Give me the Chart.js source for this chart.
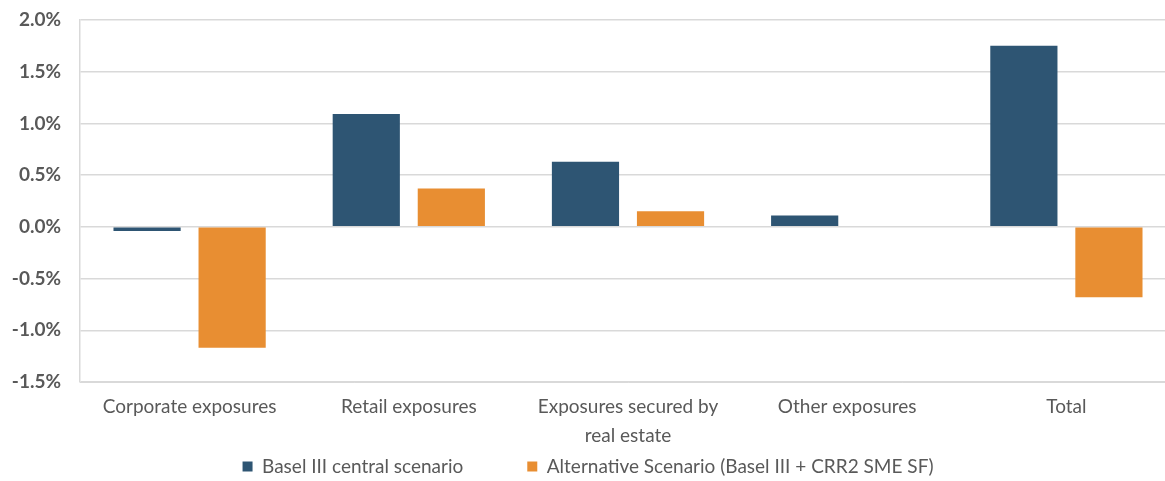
<!DOCTYPE html>
<html>
<head>
<meta charset="utf-8">
<script src="https://cdn.jsdelivr.net/npm/chart.js@4"></script>
<style>
  html, body { margin: 0; padding: 0; background: #fff; overflow: hidden; }
  #wrap { width: 1176px; height: 481px; }
</style>
</head>
<body>
<div id="wrap"><canvas id="impact-chart"></canvas></div>
<script>
// Catégories et valeurs (en %)
var categories = ['Corporate exposures', 'Retail exposures', ['Exposures secured by', 'real estate'], 'Other exposures', 'Total'];
var baselCentral = [-0.04, 1.09, 0.63, 0.11, 1.75];
var alternative = [-1.17, 0.37, 0.15, 0.00, -0.68];
var yTicks = [-1.5, -1.0, -0.5, 0.0, 0.5, 1.0, 1.5, 2.0];

var textColor = '#595959';
var gridColor = '#d9d9d9';

// l'axe x est étroit : on laisse ses étiquettes déborder sur la zone de la légende
var labelOverflow = {
    id: 'labelOverflow',
    afterLayout: function (chart) {
        chart.scales.x.bottom = chart.height;
    }
};

var ctx = document.getElementById('impact-chart').getContext('2d');
var impactChart = new Chart(ctx, {
    type: 'bar',
    data: {
        labels: categories,
        datasets: [{
            label: 'Basel III central scenario',
            data: baselCentral,
            backgroundColor: '#2e5573',
            borderWidth: 0
        }, {
            label: 'Alternative Scenario (Basel III + CRR2 SME SF)',
            data: alternative,
            backgroundColor: '#e88e32',
            borderWidth: 0
        }]
    },
    plugins: [labelOverflow],
    options: {
        responsive: true,
        maintainAspectRatio: false,
        animation: false,
        layout: { padding: { top: 20, left: 0, right: 0, bottom: -5 } },
        datasets: {
            bar: { categoryPercentage: 0.776, barPercentage: 0.79 }
        },
        scales: {
            x: {
                grid: { display: false, drawTicks: false },
                border: { color: gridColor },
                ticks: {
                    color: textColor,
                    font: { family: 'Lato', size: 19, lineHeight: 1.5 },
                    padding: 11,
                    maxRotation: 0,
                    autoSkip: false
                },
                afterFit: function (scale) { scale.height = 11; }
            },
            y: {
                min: -1.5,
                max: 2.0,
                afterBuildTicks: function (scale) {
                    scale.ticks = yTicks.map(function (v) { return { value: v }; });
                },
                grid: { color: gridColor, lineWidth: 1.5, drawTicks: false },
                border: { color: gridColor, width: 1.5 },
                ticks: {
                    color: textColor,
                    font: { family: 'Lato', size: 19, weight: 'bold' },
                    padding: 19,
                    callback: function (v) { return v.toFixed(1) + '%'; }
                },
                afterFit: function (scale) {
                    scale.width = 80;
                    scale.paddingTop = 0;
                    scale.paddingBottom = 0;
                }
            }
        },
        plugins: {
            legend: {
                position: 'bottom',
                labels: {
                    color: textColor,
                    font: { family: 'Lato', size: 19 },
                    boxWidth: 10,
                    boxHeight: 10,
                    padding: 64
                }
            },
            tooltip: { enabled: false }
        }
    }
});
</script>
</body>
</html>
